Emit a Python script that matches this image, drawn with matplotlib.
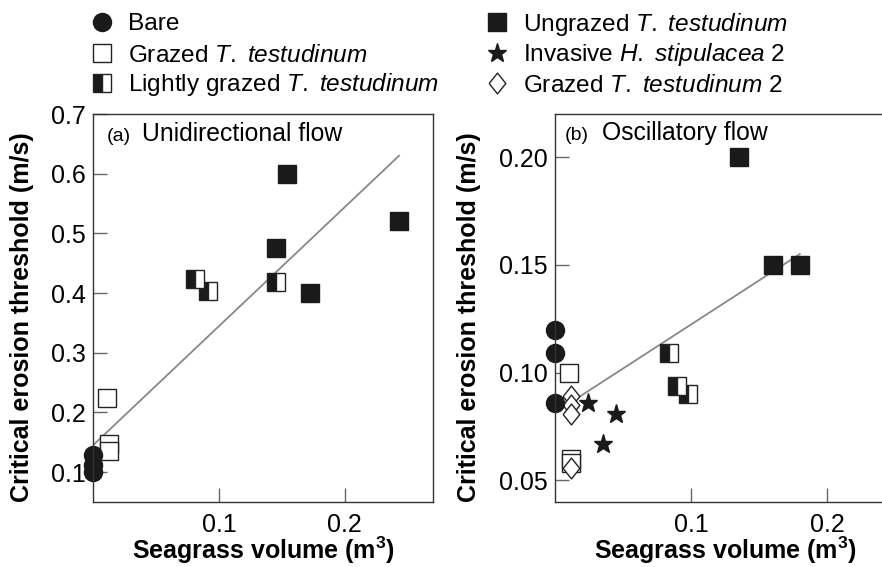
import matplotlib
matplotlib.use("Agg")
import matplotlib.pyplot as plt
from matplotlib.lines import Line2D

plt.rcParams['font.family'] = ['Liberation Sans', 'DejaVu Sans']
plt.rcParams['mathtext.fontset'] = 'custom'
plt.rcParams['mathtext.rm'] = 'Liberation Sans'
plt.rcParams['mathtext.it'] = 'Liberation Sans:italic'
plt.rcParams['mathtext.bf'] = 'Liberation Sans:bold'

# panel (a) unidirectional flow
a_bare_x = [0, 0, 0]
a_bare_y = [0.128, 0.112, 0.100]
a_grazed_x = [0.011, 0.013, 0.013]
a_grazed_y = [0.224, 0.147, 0.135]
a_light_x = [0.081, 0.091, 0.145]
a_light_y = [0.423, 0.403, 0.418]
a_ungrazed_x = [0.154, 0.145, 0.172, 0.243]
a_ungrazed_y = [0.600, 0.475, 0.400, 0.520]
a_fit_x = [0.0, 0.243]
a_fit_y = [0.145, 0.630]

# panel (b) oscillatory flow
b_bare_x = [0, 0, 0]
b_bare_y = [0.120, 0.109, 0.086]
b_grazed_x = [0.010, 0.012, 0.012]
b_grazed_y = [0.100, 0.060, 0.058]
b_light_x = [0.084, 0.090, 0.098]
b_light_y = [0.109, 0.094, 0.090]
b_ungrazed_x = [0.135, 0.160, 0.180]
b_ungrazed_y = [0.200, 0.150, 0.150]
b_invasive_x = [0.024, 0.045, 0.035]
b_invasive_y = [0.086, 0.081, 0.067]
b_grazed2_x = [0.012, 0.012, 0.012, 0.012]
b_grazed2_y = [0.089, 0.085, 0.081, 0.0556]
b_fit_x = [0.0, 0.180]
b_fit_y = [0.0815, 0.155]

labels = ["Bare",
          r"Grazed $\it{T.}$ $\it{testudinum}$",
          r"Lightly grazed $\it{T.}$ $\it{testudinum}$",
          r"Ungrazed $\it{T.}$ $\it{testudinum}$",
          r"Invasive $\it{H.}$ $\it{stipulacea}$ 2",
          r"Grazed $\it{T.}$ $\it{testudinum}$ 2"]

diamond = [(-0.4, 0), (0, 0.5), (0.4, 0), (0, -0.5), (-0.4, 0)]
dark = '#1a1a1a'
st_bare = dict(marker='o', ms=13, mfc=dark, mec=dark, ls='none')
st_grazed = dict(marker='s', ms=13.5, mfc='white', mec='#222222', mew=1.0, ls='none')
st_light = dict(marker='s', ms=13.5, mfc=dark, mfcalt='white', fillstyle='left',
                mec='#222222', mew=1.0, ls='none')
st_ungrazed = dict(marker='s', ms=13.5, mfc=dark, mec=dark, ls='none')
st_inv = dict(marker='*', ms=14, mfc=dark, mec=dark, ls='none')
st_grazed2 = dict(marker=diamond, ms=15, mfc='white', mec='#222222', mew=1.0, ls='none')
styles = [st_bare, st_grazed, st_light, st_ungrazed, st_inv, st_grazed2]

W, H = 882, 567
fig = plt.figure(figsize=(8.82, 5.67), dpi=100)
ax1 = fig.add_axes([93/W, 65/H, 340/W, 388/H])
ax2 = fig.add_axes([555/W, 65/H, 340/W, 388/H])

# (a)
ax1.plot(a_fit_x, a_fit_y, color='#888888', lw=1.3)
ax1.plot(a_grazed_x, a_grazed_y, clip_on=False, **st_grazed)
ax1.plot(a_light_x, a_light_y, clip_on=False, **st_light)
ax1.plot(a_ungrazed_x, a_ungrazed_y, clip_on=False, **st_ungrazed)
ax1.plot(a_bare_x, a_bare_y, clip_on=False, **st_bare)
ax1.set_xlim(0, 0.27)
ax1.set_ylim(0.05, 0.7)
ax1.set_xticks([0.1, 0.2])
ax1.set_xticklabels(["0.1", "0.2"])
ax1.set_yticks([0.1, 0.2, 0.3, 0.4, 0.5, 0.6, 0.7])
ax1.set_yticklabels(["0.1", "0.2", "0.3", "0.4", "0.5", "0.6", "0.7"])
ax1.text(0.041, 0.93, "(a)", transform=ax1.transAxes, fontsize=14, va='baseline')
ax1.text(0.144, 0.93, "Unidirectional flow", transform=ax1.transAxes, fontsize=17.8, va='baseline')

# (b)
ax2.plot(b_fit_x, b_fit_y, color='#888888', lw=1.3)
ax2.plot(b_grazed_x, b_grazed_y, clip_on=False, **st_grazed)
ax2.plot(b_light_x, b_light_y, clip_on=False, **st_light)
ax2.plot(b_ungrazed_x, b_ungrazed_y, clip_on=False, **st_ungrazed)
ax2.plot(b_invasive_x, b_invasive_y, clip_on=False, **st_inv)
ax2.plot(b_grazed2_x, b_grazed2_y, clip_on=False, **st_grazed2)
ax2.plot(b_bare_x, b_bare_y, clip_on=False, **st_bare)
ax2.set_xlim(0, 0.25)
ax2.set_ylim(0.04, 0.22)
ax2.set_xticks([0.1, 0.2])
ax2.set_xticklabels(["0.1", "0.2"])
ax2.set_yticks([0.05, 0.10, 0.15, 0.20])
ax2.set_yticklabels(["0.05", "0.10", "0.15", "0.20"])
ax2.text(0.03, 0.933, "(b)", transform=ax2.transAxes, fontsize=14, va='baseline')
ax2.text(0.138, 0.933, "Oscillatory flow", transform=ax2.transAxes, fontsize=17.8, va='baseline')

for ax in (ax1, ax2):
    for sp in ax.spines.values():
        sp.set_linewidth(1.0)
        sp.set_color('#333333')
    ax.tick_params(direction='in', length=10, width=1, color='#666666',
                   labelsize=18, top=False, right=False)
    ax.tick_params(axis='x', pad=8)
    ax.tick_params(axis='y', pad=5)
    ax.set_xlabel(r"Seagrass volume ($\mathbf{m^3}$)", fontsize=18, fontweight='bold')
    ax.set_ylabel("Critical erosion threshold (m/s)", fontsize=18, fontweight='bold')
    ax.xaxis.set_label_coords(0.5, -0.085)

ax1.yaxis.set_label_coords(-0.174, 0.477)
ax2.yaxis.set_label_coords(-0.218, 0.477)

# legend, two columns of three rows at the top of the figure
marker_x = [102, 102, 102, 497, 497, 497]
row_y = [22, 53, 83, 22, 53, 83]
for st, lab, mx, my in zip(styles, labels, marker_x, row_y):
    fig.add_artist(Line2D([mx/W], [1 - my/H], transform=fig.transFigure, **st))
    fig.text((mx + 26)/W, 1 - (my + 8.5)/H, lab, fontsize=17.6, va='baseline', ha='left')

fig.savefig("out.png", dpi=100)
